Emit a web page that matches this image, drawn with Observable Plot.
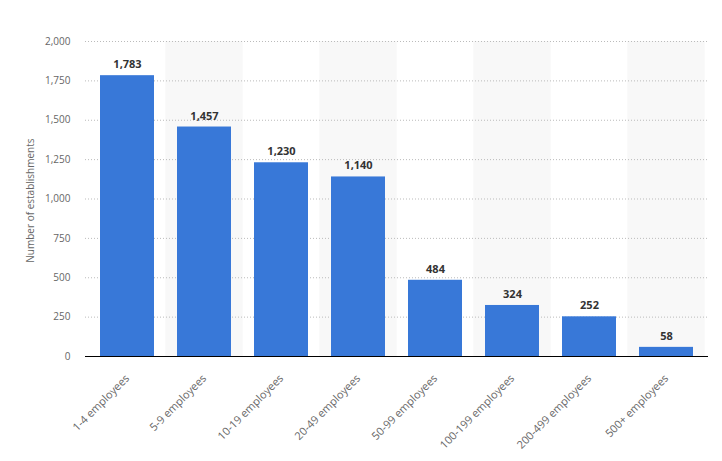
<!DOCTYPE html>
<html>
<head>
<meta charset="utf-8">
<script src="https://cdn.jsdelivr.net/npm/d3@7"></script>
<script src="https://cdn.jsdelivr.net/npm/@observablehq/plot@0.6"></script>
<style>
  body { margin: 0; background: #fff; }
  #chart svg { font-family: "Open Sans", "Noto Sans", sans-serif; }
</style>
</head>
<body>
<div id="chart"></div>
<script>
const categories = ["1-4 employees", "5-9 employees", "10-19 employees", "20-49 employees", "50-99 employees", "100-199 employees", "200-499 employees", "500+ employees"];
const values = [1783, 1457, 1230, 1140, 484, 324, 252, 58];
const yTicks = [0, 250, 500, 750, 1000, 1250, 1500, 1750, 2000];
const shadedCategories = categories.filter((c, i) => i % 2 === 1);

const data = categories.map((c, i) => ({category: c, value: values[i]}));
const fmt = d3.format(",");

const W = 722, H = 461, mL = 85, mR = 14;
const step = (W - mL - mR) / categories.length;
const gap = step * 0.3 / 2;

const chart = Plot.plot({
  width: W,
  height: H,
  marginLeft: mL,
  marginRight: mR,
  marginTop: 41,
  marginBottom: 105,
  x: {domain: categories, paddingInner: 0.3, paddingOuter: 0.15, label: null},
  y: {domain: [0, 2000], label: null},
  marks: [
    Plot.barY(shadedCategories, {x: d => d, y1: 0, y2: 2000, fill: "#f8f8f8", insetLeft: -gap, insetRight: -gap}),
    Plot.gridY(yTicks.filter(d => d > 0), {stroke: "#bbb", strokeOpacity: 1, strokeDasharray: "1,2", strokeWidth: 1}),
    Plot.barY(data, {x: "category", y: "value", fill: "#3878d8"}),
    Plot.text(data, {x: "category", y: "value", text: d => fmt(d.value), dy: -11, fill: "#333", fontSize: 11, fontWeight: "bold"}),
    Plot.ruleY([0], {stroke: "#000", strokeWidth: 1.2}),
    Plot.axisY(yTicks, {tickSize: 0, tickPadding: 15, tickFormat: fmt, fill: "#666", fontSize: 10, label: null}),
    Plot.axisX({tickSize: 0, tickPadding: 20, tickRotate: -45, fill: "#666", fontSize: 11, label: null, dx: 0}),
    Plot.text(["Number of establishments"], {frameAnchor: "left", dx: -55, rotate: -90, textAnchor: "middle", fill: "#666", fontSize: 10, y: () => 990})
  ]
});
document.getElementById("chart").appendChild(chart);
</script>
</body>
</html>
